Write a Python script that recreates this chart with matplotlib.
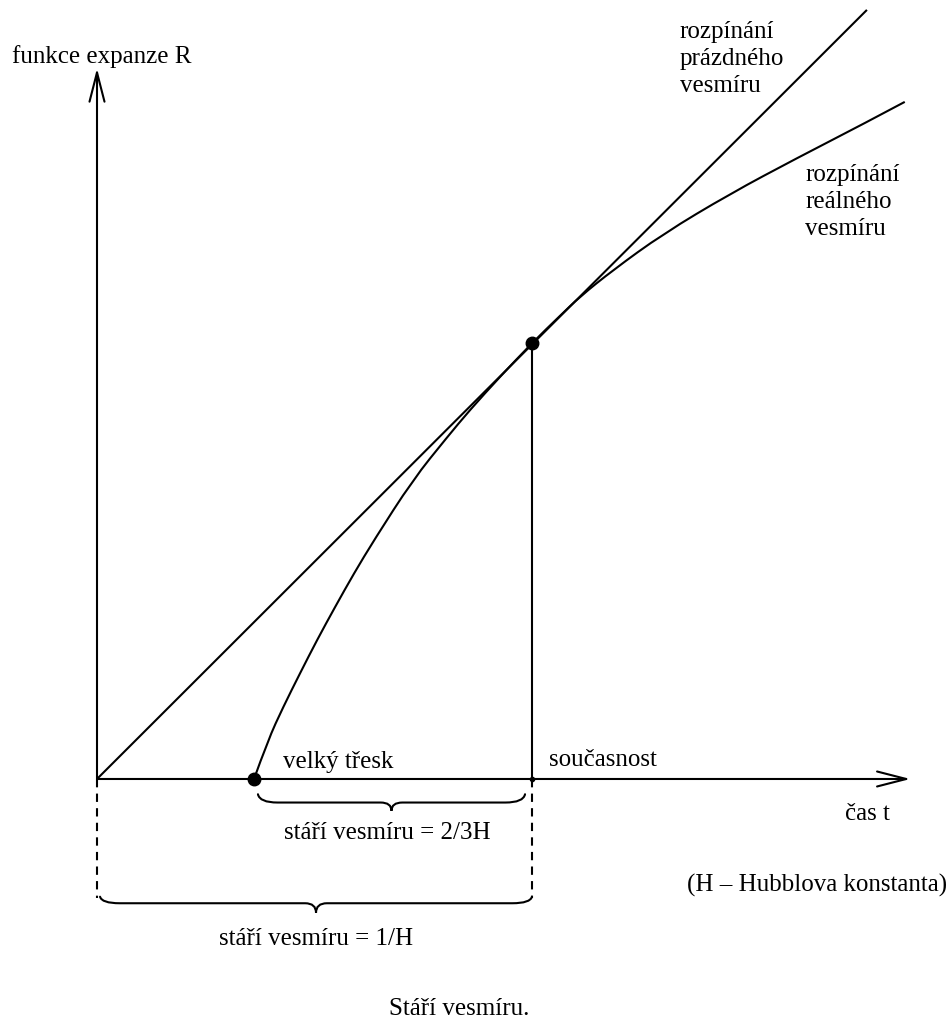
import matplotlib
matplotlib.use('Agg')
import matplotlib.pyplot as plt
from matplotlib.path import Path
from matplotlib.patches import PathPatch

plt.rcParams['font.family'] = ['Liberation Serif', 'DejaVu Serif']

# time in units of 1/H (present = 1), expansion function R (present = 1)
empty_t = [0.0, 1.770]
empty_R = [0.0, 1.764]

real_t = [0.361, 0.393, 0.428, 0.467, 0.506, 0.547, 0.591, 0.637, 0.726,
          0.805, 0.857, 0.926, 1.000, 1.064, 1.110, 1.186, 1.301, 1.455, 1.609,
          1.761, 1.857]
real_R = [0.000, 0.089, 0.165, 0.243, 0.319, 0.394, 0.472, 0.548, 0.686,
          0.784, 0.846, 0.922, 1.000, 1.062, 1.106, 1.167, 1.250, 1.342, 1.424,
          1.502, 1.553]

big_bang_t = 0.361
present_t = 1.0
present_R = 1.0

fig = plt.figure(figsize=(9.5, 10.19), dpi=100)
ax = fig.add_axes([0, 0, 1, 1])
ax.set_xlim(-0.223, 1.961)
ax.set_ylim(-0.5505, 1.7867)
ax.axis('off')

lw = 1.5
arrow = dict(arrowstyle='->, head_length=0.7, head_width=0.18', lw=lw,
             color='black', mutation_scale=30, shrinkA=0, shrinkB=0)

# axes with open arrow heads
ax.annotate('', xy=(1.870, 0), xytext=(0, 0), arrowprops=arrow)
ax.annotate('', xy=(0, 1.630), xytext=(0, 0), arrowprops=arrow)

# empty universe: straight line
ax.plot(empty_t, empty_R, color='black', lw=lw, solid_capstyle='butt')

# real universe: smooth path through the read points (quadratic segments)
pts = list(zip(real_t, real_R))
verts = [pts[0]]
codes = [Path.MOVETO]
for i in range(1, len(pts) - 1):
    if i < len(pts) - 2:
        end = ((pts[i][0] + pts[i + 1][0]) / 2, (pts[i][1] + pts[i + 1][1]) / 2)
    else:
        end = pts[i + 1]
    verts += [pts[i], end]
    codes += [Path.CURVE3, Path.CURVE3]
ax.add_patch(PathPatch(Path(verts, codes), fill=False, lw=lw, edgecolor='black'))

# present
ax.plot([present_t, present_t], [0, present_R], color='black', lw=lw)
ax.plot([0, 0], [0, -0.273], color='black', lw=lw, dashes=(4, 3))
ax.plot([present_t, present_t], [0, -0.273], color='black', lw=lw, dashes=(4, 3))

ax.plot([big_bang_t], [0], 'o', color='black', ms=9)
ax.plot([present_t], [present_R], 'o', color='black', ms=9)
ax.plot([present_t], [0], 'o', color='black', ms=3)


def brace(x0, x1, ytop, ymid, ytip, r_end=0.045, r_tip=0.025):
    mid = (x0 + x1) / 2
    verts = [(x0, ytop), (x0 + 0.004, ymid), (x0 + r_end, ymid),
             (mid - r_tip, ymid),
             (mid, ymid), (mid, ytip),
             (mid, ymid), (mid + r_tip, ymid),
             (x1 - r_end, ymid),
             (x1 - 0.004, ymid), (x1, ytop)]
    codes = [Path.MOVETO, Path.CURVE3, Path.CURVE3, Path.LINETO,
             Path.CURVE3, Path.CURVE3, Path.CURVE3, Path.CURVE3,
             Path.LINETO, Path.CURVE3, Path.CURVE3]
    ax.add_patch(PathPatch(Path(verts, codes), fill=False, lw=lw,
                           edgecolor='black', capstyle='round'))


brace(0.370, 0.984, -0.035, -0.054, -0.073)
brace(0.007, 1.000, -0.270, -0.285, -0.307)

fs = 18
ax.text(-0.195, 1.642, 'funkce expanze R', fontsize=fs, va='baseline')
ax.text(1.340, 1.576, 'rozpínání\nprázdného\nvesmíru', fontsize=fs,
        va='baseline', linespacing=1.3)
ax.text(1.628, 1.248, 'rozpínání\nreálného\nvesmíru', fontsize=fs,
        va='baseline', linespacing=1.3)
ax.text(0.428, 0.025, 'velký třesk', fontsize=fs, va='baseline')
ax.text(1.039, 0.030, 'současnost', fontsize=fs, va='baseline')
ax.text(1.720, -0.094, 'čas t', fontsize=fs, va='baseline')
ax.text(0.667, -0.138, 'stáří vesmíru = 2/3H', fontsize=fs, va='baseline', ha='center')
ax.text(1.356, -0.259, '(H – Hubblova konstanta)', fontsize=fs, va='baseline')
ax.text(0.503, -0.381, 'stáří vesmíru = 1/H', fontsize=fs, va='baseline', ha='center')
ax.text(0.832, -0.541, 'Stáří vesmíru.', fontsize=fs, va='baseline', ha='center')

fig.savefig('out.png', dpi=100)
